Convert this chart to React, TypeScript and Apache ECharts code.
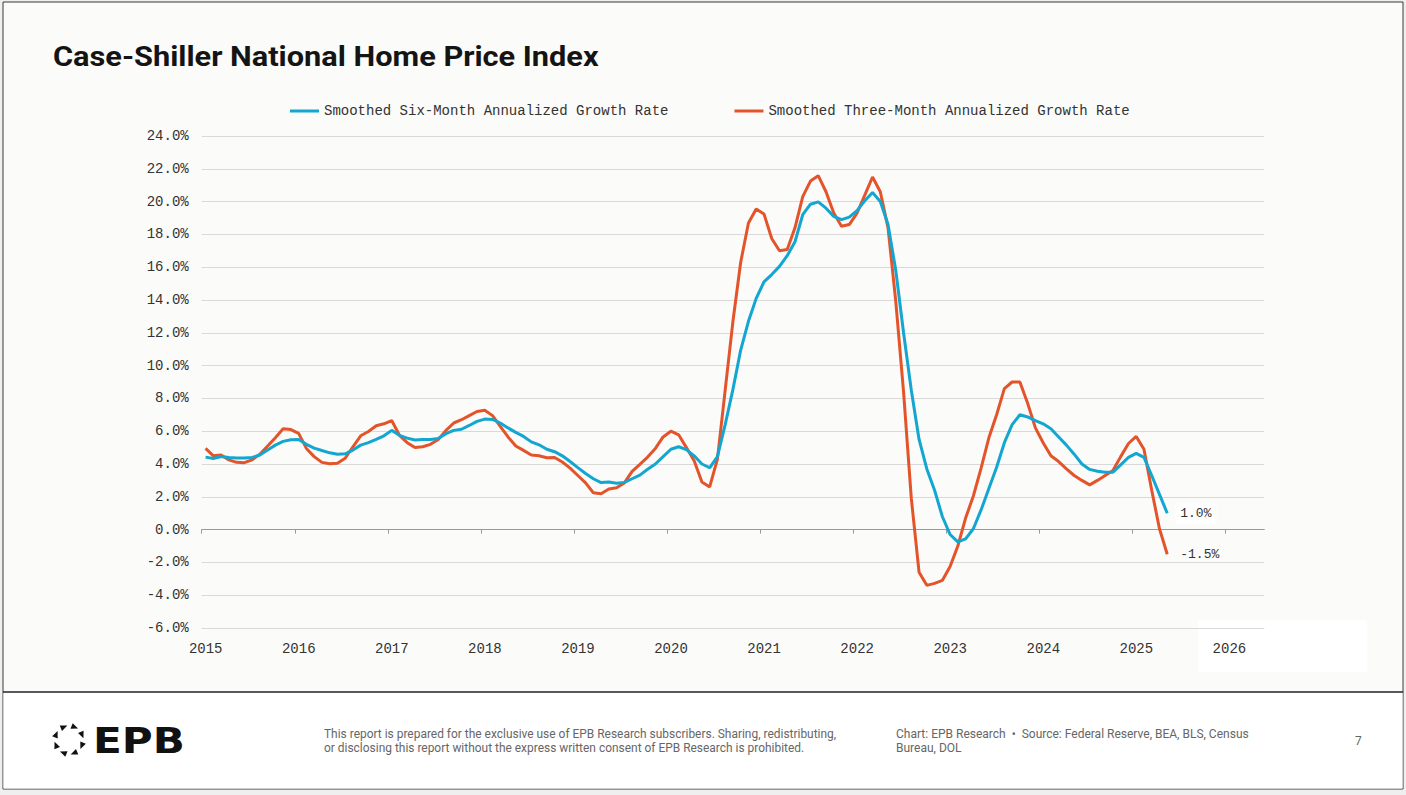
import React, { useEffect, useRef } from "react";
import * as echarts from "echarts";

// ---------- data ----------
const START_YEAR = 2015;
const yearTicks = [2015, 2016, 2017, 2018, 2019, 2020, 2021, 2022, 2023, 2024, 2025, 2026];

const seriesNames = [
  "Smoothed Six-Month Annualized Growth Rate",
  "Smoothed Three-Month Annualized Growth Rate",
];

// monthly values, Jan 2015 .. May 2025 (percent)
const sixMonth = [
  4.42, 4.34, 4.46, 4.4, 4.36, 4.36, 4.4, 4.55, 4.85, 5.15, 5.38, 5.48,
  5.49, 5.2, 4.97, 4.82, 4.68, 4.6, 4.62, 4.85, 5.15, 5.3, 5.5, 5.72,
  6.05, 5.75, 5.58, 5.46, 5.5, 5.5, 5.55, 5.85, 6.05, 6.12, 6.35, 6.6,
  6.74, 6.72, 6.5, 6.2, 5.93, 5.68, 5.35, 5.17, 4.9, 4.75, 4.5, 4.15,
  3.78, 3.42, 3.1, 2.87, 2.9, 2.82, 2.88, 3.1, 3.32, 3.68, 4.0, 4.45,
  4.9, 5.05, 4.88, 4.5, 4.0, 3.77, 4.45, 6.4, 8.55, 10.95, 12.7, 14.1,
  15.1, 15.55, 16.05, 16.7, 17.55, 19.2, 19.84, 19.98, 19.6, 19.1, 18.9, 19.05,
  19.45, 20.05, 20.55, 20.0, 18.6, 15.8, 12.0, 8.5, 5.5, 3.7, 2.4, 0.8,
  -0.3, -0.75, -0.57, 0.05, 1.2, 2.5, 3.8, 5.3, 6.4, 7.0, 6.87, 6.65,
  6.45, 6.15, 5.65, 5.15, 4.6, 4.0, 3.67, 3.56, 3.5, 3.5, 3.95, 4.4,
  4.65, 4.4, 3.3, 2.15, 1.0,
];

const threeMonth = [
  4.95, 4.5, 4.55, 4.25, 4.1, 4.08, 4.25, 4.6, 5.1, 5.6, 6.15, 6.1,
  5.87, 4.95, 4.45, 4.1, 4.02, 4.05, 4.35, 5.05, 5.72, 5.98, 6.33, 6.45,
  6.65, 5.75, 5.3, 5.0, 5.05, 5.2, 5.5, 6.05, 6.5, 6.7, 6.95, 7.2,
  7.28, 6.95, 6.3, 5.65, 5.1, 4.83, 4.55, 4.5, 4.38, 4.4, 4.12, 3.75,
  3.3, 2.85, 2.25, 2.18, 2.48, 2.55, 2.85, 3.55, 3.98, 4.42, 4.95, 5.65,
  6.0, 5.78, 5.0, 4.2, 2.9, 2.6, 4.3, 8.5, 12.7, 16.3, 18.7, 19.55,
  19.25, 17.75, 17.0, 17.08, 18.4, 20.3, 21.25, 21.58, 20.6, 19.3, 18.5, 18.6,
  19.3, 20.4, 21.5, 20.6, 18.4, 13.9, 8.4, 1.9, -2.6, -3.4, -3.28, -3.1,
  -2.25, -1.0, 0.7, 2.05, 3.75, 5.6, 7.0, 8.6, 9.0, 9.0, 7.7, 6.2,
  5.3, 4.5, 4.15, 3.7, 3.3, 3.0, 2.73, 3.0, 3.3, 3.6, 4.45, 5.25,
  5.68, 4.9, 2.4, 0.05, -1.5,
];

const Y_MIN = -6;
const Y_MAX = 24;
const Y_STEP = 2;

const TITLE = "Case-Shiller National Home Price Index";
const DISCLAIMER = [
  "This report is prepared for the exclusive use of EPB Research subscribers. Sharing, redistributing,",
  "or disclosing this report without the express written consent of EPB Research is prohibited.",
];
const SOURCE = [
  "Chart: EPB Research  \u2022  Source: Federal Reserve, BEA, BLS, Census",
  "Bureau, DOL",
];
const PAGE_NO = "7";
const LOGO_TEXT = "EPB";

// ---------- styles ----------
const BLUE = "#12A6D1";
const ORANGE = "#E4542B";
const MONO = "'Liberation Mono', 'DejaVu Sans Mono', monospace";
const SANS = "Roboto, 'Liberation Sans', sans-serif";

function measure(text: string, font: string): number {
  const c = document.createElement("canvas").getContext("2d");
  if (!c) return text.length * 6;
  c.font = font;
  return c.measureText(text).width || text.length * 6;
}

function toPoints(values: number[]) {
  return values.map((v, i) => [START_YEAR + (i + 0.5) / 12, v]);
}

export default function App() {
  const ref = useRef<HTMLDivElement>(null);

  useEffect(() => {
    if (!ref.current) return;
    const chart = echarts.init(ref.current, undefined, { renderer: "svg" });

    const titleFont = `bold 28px ${SANS}`;
    const titleScale = 546 / measure(TITLE, titleFont);
    const smallFont = `12px ${SANS}`;
    const discScale = 512 / measure(DISCLAIMER[0], smallFont);
    const srcScale = 353 / measure(SOURCE[0], smallFont);
    const logoFont = `bold 36px 'DejaVu Sans', sans-serif`;
    const logoScale = 92 / measure(LOGO_TEXT, logoFont);

    // logo ring of 8 small triangles
    const ringCx = 69;
    const ringCy = 740;
    const ringR = 14;
    const ring: any[] = [];
    for (let k = 0; k < 8; k++) {
      const a = ((k * 45 + 22.5) * Math.PI) / 180;
      const ox = Math.cos(a);
      const oy = Math.sin(a);
      const tx = -oy;
      const ty = ox;
      const cx = ringCx + ringR * ox;
      const cy = ringCy + ringR * oy;
      ring.push({
        type: "polygon",
        z: 10,
        shape: {
          points: [
            [cx + tx * 4, cy + ty * 4],
            [cx - tx * 3 + ox * 3, cy - ty * 3 + oy * 3],
            [cx - tx * 3 - ox * 3, cy - ty * 3 - oy * 3],
          ],
        },
        style: { fill: "#111" },
      });
    }

    const txt = (
      text: string,
      x: number,
      y: number,
      font: string,
      fill: string,
      scaleX = 1,
      align = "left"
    ) => ({
      type: "text",
      x,
      y,
      scaleX,
      z: 10,
      style: {
        text,
        font,
        fill,
        align,
        textAlign: align,
        verticalAlign: "middle",
        textVerticalAlign: "middle",
      },
    });

    const option: any = {
      animation: false,
      backgroundColor: "#EFEFEF",
      textStyle: { fontFamily: MONO },
      legend: {
        left: 285,
        top: 99,
        itemWidth: 29,
        itemHeight: 3,
        itemGap: 66,
        icon: "rect",
        selectedMode: false,
        textStyle: { fontFamily: MONO, fontSize: 14, color: "#333" },
        data: seriesNames,
      },
      grid: { left: 201.7, right: 141.7, top: 136, bottom: 167, containLabel: false },
      xAxis: [
        {
          type: "value",
          min: yearTicks[0],
          max: 2026.418,
          interval: 1,
          axisLine: { show: true, onZero: true, lineStyle: { color: "#9a9a9a", width: 1 } },
          axisTick: { show: true, customValues: yearTicks, length: 4, lineStyle: { color: "#9a9a9a" } },
          axisLabel: { show: false },
          splitLine: { show: false },
        },
        {
          type: "value",
          position: "bottom",
          min: yearTicks[0],
          max: 2026.418,
          interval: 1,
          axisLine: { show: false, onZero: false },
          axisTick: { show: false },
          splitLine: { show: false },
          axisLabel: {
            show: true,
            customValues: yearTicks,
            formatter: (v: number) => String(v),
            margin: 14,
            padding: [0, 0, 0, 8],
            fontFamily: MONO,
            fontSize: 14,
            color: "#333",
          },
        },
      ],
      yAxis: {
        type: "value",
        min: Y_MIN,
        max: Y_MAX,
        interval: Y_STEP,
        axisLine: { show: false },
        axisTick: { show: false },
        splitLine: { show: true, lineStyle: { color: "#D9D9D9", width: 1 } },
        axisLabel: {
          formatter: (v: number) => v.toFixed(1) + "%",
          margin: 13,
          fontFamily: MONO,
          fontSize: 14,
          color: "#333",
        },
      },
      series: [
        {
          name: seriesNames[0],
          type: "line",
          xAxisIndex: 0,
          data: toPoints(sixMonth),
          symbol: "none",
          showSymbol: false,
          silent: true,
          z: 3,
          lineStyle: { color: BLUE, width: 3 },
          itemStyle: { color: BLUE },
          emphasis: { disabled: true },
          endLabel: {
            show: true,
            formatter: (p: any) => p.value[1].toFixed(1) + "%",
            distance: 8,
            backgroundColor: "#FFFFFF",
            padding: [4, 5],
            fontFamily: MONO,
            fontSize: 13,
            color: "#333",
          },
        },
        {
          name: seriesNames[1],
          type: "line",
          xAxisIndex: 0,
          data: toPoints(threeMonth),
          symbol: "none",
          showSymbol: false,
          silent: true,
          z: 2,
          lineStyle: { color: ORANGE, width: 3 },
          itemStyle: { color: ORANGE },
          emphasis: { disabled: true },
          endLabel: {
            show: true,
            formatter: (p: any) => p.value[1].toFixed(1) + "%",
            distance: 8,
            padding: [4, 5],
            fontFamily: MONO,
            fontSize: 13,
            color: "#333",
          },
        },
      ],
      graphic: [
        {
          type: "rect",
          z: -100,
          shape: { x: 3, y: 2, width: 1400, height: 787 },
          style: { fill: "#FBFBF9", stroke: "#3a3a3a", lineWidth: 1 },
        },
        {
          type: "rect",
          z: -99,
          shape: { x: 3.5, y: 692, width: 1399, height: 96.5 },
          style: { fill: "#FFFFFF" },
        },
        {
          type: "line",
          z: -98,
          shape: { x1: 3, y1: 692, x2: 1403, y2: 692 },
          style: { stroke: "#222", lineWidth: 1.5 },
        },
        {
          type: "rect",
          z: -97,
          shape: { x: 1198, y: 620, width: 169, height: 52 },
          style: { fill: "#FFFFFF" },
        },
        txt(TITLE, 53, 56, titleFont, "#141414", titleScale),
        ...ring,
        txt(LOGO_TEXT, 93, 741, logoFont, "#111", logoScale),
        txt(DISCLAIMER[0], 324, 734, smallFont, "#666", discScale),
        txt(DISCLAIMER[1], 324, 748, smallFont, "#666", discScale),
        txt(SOURCE[0], 896, 734, smallFont, "#666", srcScale),
        txt(SOURCE[1], 896, 748, smallFont, "#666", srcScale),
        txt(PAGE_NO, 1355, 741, smallFont, "#666", 1),
      ],
    };

    chart.setOption(option);
    return () => chart.dispose();
  }, []);

  return (
    <div
      ref={ref}
      style={{ position: "absolute", left: 0, top: 0, width: 1406, height: 795 }}
    />
  );
}
